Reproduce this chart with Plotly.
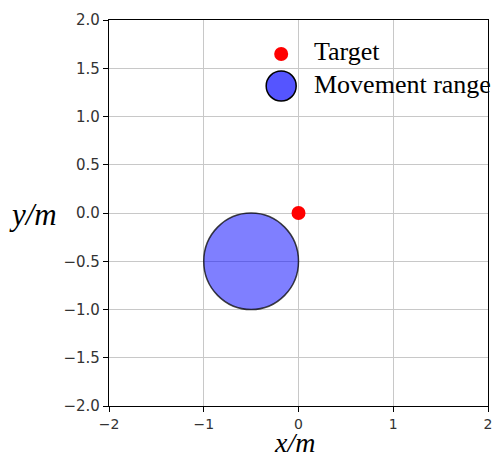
import plotly.graph_objects as go

# data
target_x = [0.0]
target_y = [0.0]
range_center = [-0.5, -0.5]
range_radius = [0.5]
x_ticks = [-2, -1, 0, 1, 2]
y_ticks = [-2.0, -1.5, -1.0, -0.5, 0.0, 0.5, 1.0, 1.5, 2.0]
legend_labels = ["Target", "Movement range"]

W, H = 497, 459
L, R, T, B = 109, 5, 20, 53
pw, ph = W - L - R, H - T - B

def px(xp):
    return (xp - L) / pw

def py(yp):
    return (H - B - yp) / ph

fig = go.Figure()

cx, cy = range_center
r = range_radius[0]
fig.add_shape(type="circle", xref="x", yref="y",
              x0=cx - r, x1=cx + r, y0=cy - r, y1=cy + r,
              fillcolor="rgba(0,0,255,0.5)",
              line=dict(color="rgba(0,0,0,0.75)", width=1.5), layer="above")

fig.add_trace(go.Scatter(x=target_x, y=target_y, mode="markers",
                         marker=dict(color="red", size=14),
                         showlegend=False, cliponaxis=False))

# manual legend
fig.add_shape(type="circle", xref="paper", yref="paper",
              xsizemode="pixel", ysizemode="pixel",
              xanchor=px(283), yanchor=py(54), x0=-7, x1=7, y0=-7, y1=7,
              fillcolor="red", line=dict(width=0))
fig.add_shape(type="circle", xref="paper", yref="paper",
              xsizemode="pixel", ysizemode="pixel",
              xanchor=px(283), yanchor=py(86), x0=-15, x1=15, y0=-15, y1=15,
              fillcolor="rgba(85,85,255,1)", line=dict(color="black", width=1.5))
fig.add_annotation(x=px(314), y=py(52), xref="paper", yref="paper",
                   text=legend_labels[0], showarrow=False, xanchor="left", yanchor="middle",
                   font=dict(family="Liberation Serif", size=26, color="black"))
fig.add_annotation(x=px(314), y=py(84), xref="paper", yref="paper",
                   text=legend_labels[1], showarrow=False, xanchor="left", yanchor="middle",
                   font=dict(family="Liberation Serif", size=26, color="black"))

# axis titles
fig.add_annotation(x=px(32), y=py(214), xref="paper", yref="paper",
                   text="<i>y/m</i>", showarrow=False, xanchor="center", yanchor="middle",
                   font=dict(family="Liberation Serif", size=31, color="black"))
fig.add_annotation(x=px(296), y=py(459), xref="paper", yref="paper",
                   text="<i>x/m</i>", showarrow=False, xanchor="center", yanchor="bottom",
                   borderpad=0,
                   font=dict(family="Liberation Serif", size=28, color="black"))

axis_common = dict(showgrid=True, gridcolor="#c8c8c8", gridwidth=1,
                   showline=True, linecolor="black", linewidth=1.2, mirror=True,
                   ticks="outside", ticklen=5, tickcolor="black",
                   zeroline=False)

fig.update_xaxes(range=[-2, 2], tickvals=x_ticks, ticktext=[str(v).replace("-", "\u2212") for v in x_ticks],
                 ticklabelstandoff=0, tickfont=dict(family="DejaVu Sans", size=14, color="#333"),
                 **axis_common)
fig.update_yaxes(range=[-2, 2], tickvals=y_ticks,
                 ticktext=[f"{v:.1f}".replace("-", "\u2212") for v in y_ticks],
                 tickfont=dict(family="DejaVu Sans", size=15, color="#333"), **axis_common)

fig.update_layout(width=W, height=H, margin=dict(l=L, r=R, t=T, b=B),
                  plot_bgcolor="white", paper_bgcolor="white", showlegend=False)

fig.write_html("out.html")
